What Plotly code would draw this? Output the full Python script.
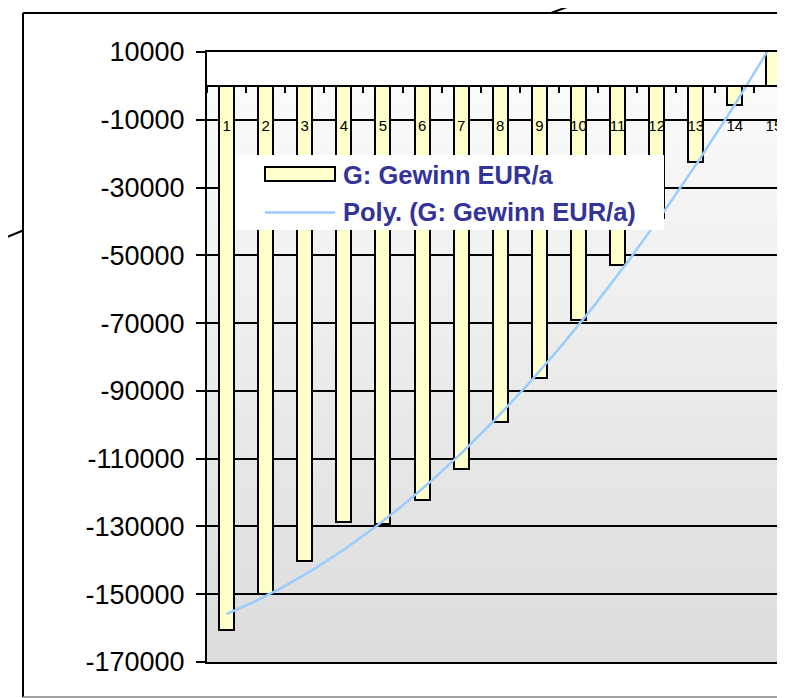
import base64
import numpy as np
import plotly.graph_objects as go

# ---------------- data ----------------
years = list(range(1, 16))
year_labels = [str(v) for v in years]
gewinn = [-160600, -150000, -140200, -128600, -129200, -122300, -113100,
          -99300, -86300, -69200, -52900, -39000, -22500, -5500, 12000]
y_tick_values = [10000, -10000, -30000, -50000, -70000, -90000,
                 -110000, -130000, -150000, -170000]
y_tick_labels = ["10000", "-10000", "-30000", "-50000", "-70000", "-90000",
                 "-110000", "-130000", "-150000", "-170000"]
series_name = "G: Gewinn EUR/a"
trend_name = "Poly. (G: Gewinn EUR/a)"

# ---------------- geometry / style ----------------
OFF = 8                      # page (body) margin around the figure
W, H = 785 - OFF, 698 - OFF
L, T = 207 - OFF, 52 - OFF
B = H - (662 - OFF)
R = 0
PW, PH = W - L - R, H - T - B
Y_MIN, Y_MAX = -170000, 10000
CAT_PX = 39.1
X_MIN = 0.5
X_MAX = 0.5 + PW / CAT_PX
BAR_W = 15 / CAT_PX
FONT = "Arial, Liberation Sans, sans-serif"
BAR_FILL = "#FFFFCC"
TREND_COLOR = "#99CCFF"
LEGEND_TEXT = "#333399"


def px_x(px):
    """reference-image pixel x -> paper x"""
    return (px - OFF - L) / PW


def px_y(py):
    """reference-image pixel y -> paper y"""
    return (H - B - (py - OFF)) / PH


# polynomial (order 2) trendline fitted to the series, as in the original
coef = np.polyfit(years, gewinn, 2)
trend_x = np.linspace(years[0], years[-1], 300)
trend_y = np.polyval(coef, trend_x)

fig = go.Figure()
fig.add_trace(go.Bar(
    x=year_labels, y=gewinn, width=BAR_W, name=series_name,
    marker=dict(color=BAR_FILL, line=dict(color="black", width=2)),
    showlegend=False, xaxis="x", yaxis="y",
))
fig.add_trace(go.Scatter(
    x=trend_x, y=trend_y, mode="lines", name=trend_name,
    line=dict(color=TREND_COLOR, width=2.5), showlegend=False,
    xaxis="x2", yaxis="y",
))

# gradient plot-area background (below zero line)
svg = ("<svg xmlns='http://www.w3.org/2000/svg' width='10' height='100' "
       "viewBox='0 0 10 100' preserveAspectRatio='none'><defs>"
       "<linearGradient id='g' x1='0' y1='0' x2='0' y2='1'>"
       "<stop offset='0' stop-color='#fafafa'/><stop offset='1' stop-color='#dcdcdc'/>"
       "</linearGradient></defs><rect width='10' height='100' fill='url(#g)'/></svg>")
src = "data:image/svg+xml;base64," + base64.b64encode(svg.encode()).decode()
fig.add_layout_image(dict(
    source=src, xref="paper", yref="y", x=0, y=0, sizex=1, sizey=-Y_MIN,
    xanchor="left", yanchor="top", sizing="stretch", layer="below",
))

shapes = [
    # outer frame
    dict(type="line", xref="paper", yref="paper", x0=px_x(23), y0=px_y(13),
         x1=px_x(800), y1=px_y(13), line=dict(color="black", width=2)),
    dict(type="line", xref="paper", yref="paper", x0=px_x(23), y0=px_y(13),
         x1=px_x(23), y1=px_y(697), line=dict(color="black", width=2)),
    dict(type="line", xref="paper", yref="paper", x0=px_x(23), y0=px_y(697),
         x1=px_x(800), y1=px_y(697), line=dict(color="#808080", width=1.5)),
    # connector lines
    dict(type="line", xref="paper", yref="paper", x0=px_x(551), y0=px_y(13),
         x1=px_x(594), y1=px_y(-3), line=dict(color="black", width=2)),
    dict(type="line", xref="paper", yref="paper", x0=px_x(-10), y0=px_y(244),
         x1=px_x(23), y1=px_y(230.5), line=dict(color="black", width=2)),
    # legend box
    dict(type="rect", xref="paper", yref="paper", x0=px_x(235), y0=px_y(155),
         x1=px_x(664), y1=px_y(230), fillcolor="white", line=dict(width=0)),
    dict(type="rect", xref="paper", yref="paper", x0=px_x(265), y0=px_y(167),
         x1=px_x(335), y1=px_y(181), fillcolor=BAR_FILL,
         line=dict(color="black", width=2)),
    dict(type="line", xref="paper", yref="paper", x0=px_x(265), y0=px_y(212.5),
         x1=px_x(335), y1=px_y(212.5), line=dict(color=TREND_COLOR, width=2.5)),
]

annotations = [
    dict(text="<b>%s</b>" % series_name, xref="paper", yref="paper",
         x=px_x(341), y=px_y(175), xanchor="left", yanchor="middle",
         showarrow=False, font=dict(family=FONT, size=25.5, color=LEGEND_TEXT)),
    dict(text="<b>%s</b>" % trend_name, xref="paper", yref="paper",
         x=px_x(341), y=px_y(212), xanchor="left", yanchor="middle",
         showarrow=False, font=dict(family=FONT, size=25.5, color=LEGEND_TEXT)),
]

fig.update_layout(
    template="none",
    width=W, height=H,
    margin=dict(l=L, r=R, t=T, b=B, pad=0),
    paper_bgcolor="white", plot_bgcolor="white",
    font=dict(family=FONT, color="black"),
    bargap=0, showlegend=False,
    shapes=shapes, annotations=annotations,
    xaxis=dict(
        type="category", categoryorder="array", categoryarray=year_labels,
        range=[-0.5, X_MAX - 1], automargin=False,
        tickson="boundaries", ticks="outside", ticklen=6, tickwidth=2,
        tickcolor="black",
        tickfont=dict(family=FONT, size=15, color="black"),
        ticklabelstandoff=26,
        showgrid=False, zeroline=False,
        showline=True, linecolor="black", linewidth=2,
        anchor="free", position=(0 - Y_MIN) / (Y_MAX - Y_MIN), side="bottom",
    ),
    xaxis2=dict(
        overlaying="x", anchor="y", side="bottom",
        range=[X_MIN, X_MAX], automargin=False,
        showticklabels=False, ticks="", showgrid=False, zeroline=False,
        showline=True, linecolor="black", linewidth=2, mirror=True,
    ),
    yaxis=dict(
        range=[Y_MIN, Y_MAX], automargin=False,
        tickmode="array", tickvals=y_tick_values, ticktext=y_tick_labels,
        ticks="outside", ticklen=9, tickwidth=2, tickcolor="black",
        tickfont=dict(family=FONT, size=27, color="black"),
        ticklabelstandoff=6,
        showgrid=True, gridcolor="black", gridwidth=2,
        zeroline=False, showline=True, linecolor="black", linewidth=2,
    ),
)

fig.write_html("out.html")
